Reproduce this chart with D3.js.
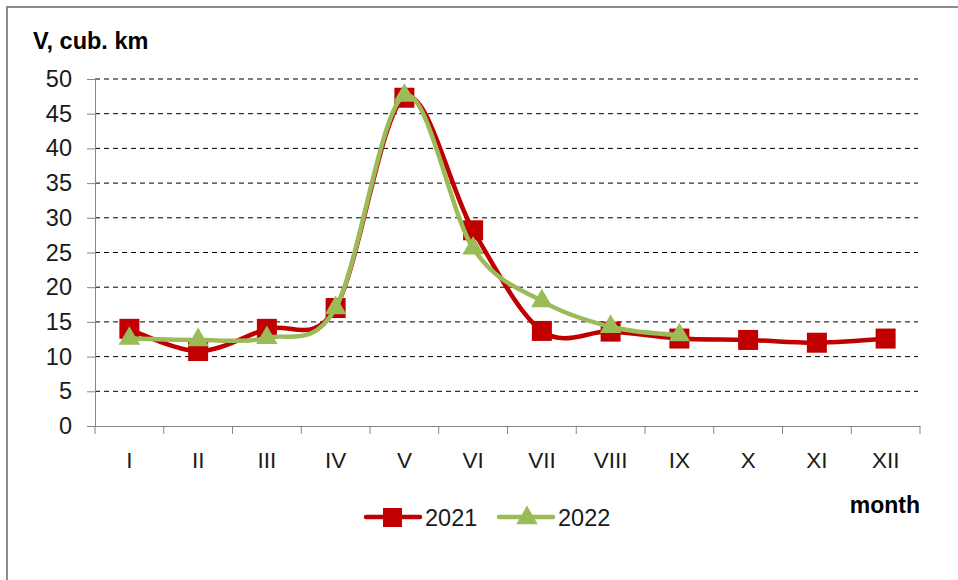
<!DOCTYPE html>
<html><head><meta charset="utf-8">
<script src="https://cdn.jsdelivr.net/npm/d3@7"></script>
<style>body{margin:0;background:#fff}svg{display:block}</style>
</head><body>
<script>
const months = ["I","II","III","IV","V","VI","VII","VIII","IX","X","XI","XII"];
const values2021 = [14.0,10.8,14.0,17.0,47.3,28.2,13.7,13.6,12.6,12.4,12.0,12.6];
const values2022 = [12.6,12.4,12.7,17.0,47.6,25.6,18.0,14.3,13.1];
const yTicks = [0,5,10,15,20,25,30,35,40,45,50];
const seriesNames = ["2021","2022"];

const W=958,H=580;
const svg=d3.select("body").append("svg").attr("width",W).attr("height",H);
const font="'Liberation Sans', Arial, sans-serif";

svg.append("rect").attr("x",7).attr("y",7).attr("width",W+20).attr("height",H+20)
  .attr("fill","#fff").attr("stroke","#8c8c8c").attr("stroke-width",2);

const x0=95,x1=920,yTop=79,yBot=426;
const x=d3.scaleBand().domain(months).range([x0,x1]);
const y=d3.scaleLinear().domain([0,50]).range([yBot,yTop]);

// gridlines
svg.append("g").selectAll("line").data(yTicks.filter(d=>d>0)).join("line")
  .attr("x1",x0).attr("x2",918).attr("y1",d=>y(d)).attr("y2",d=>y(d))
  .attr("stroke","#000").attr("stroke-width",1).attr("stroke-dasharray","5,4");

// y axis
const yAxis=svg.append("g").attr("transform",`translate(${x0},0)`)
  .call(d3.axisLeft(y).tickValues(yTicks).tickSize(8).tickPadding(15));
yAxis.select(".domain").attr("stroke","#868686");
yAxis.selectAll(".tick line").attr("stroke","#868686");
yAxis.selectAll("text").attr("font-family",font).attr("font-size",23.5).attr("fill","#1a1a1a");

// x axis
const xAxis=svg.append("g").attr("transform",`translate(0,${yBot})`)
  .call(d3.axisBottom(x).tickSize(0).tickPadding(26));
xAxis.select(".domain").attr("stroke","#868686");
xAxis.selectAll("text").attr("font-family",font).attr("font-size",22.5).attr("fill","#1a1a1a");
const bounds=months.map(m=>x(m)).concat([x1]);
svg.append("g").selectAll("line").data(bounds).join("line")
  .attr("x1",d=>d).attr("x2",d=>d).attr("y1",yBot).attr("y2",yBot+8)
  .attr("stroke","#868686");

const line=d3.line().x((d,i)=>x(months[i])+x.bandwidth()/2).y(d=>y(d)).curve(d3.curveCardinal);
const red="#C00000",green="#9BBB59";

svg.append("path").attr("d",line(values2021)).attr("fill","none").attr("stroke",red).attr("stroke-width",4.5);
svg.append("g").selectAll("rect").data(values2021).join("rect")
  .attr("x",(d,i)=>x(months[i])+x.bandwidth()/2-10).attr("y",d=>y(d)-10)
  .attr("width",20).attr("height",20).attr("fill",red);

svg.append("path").attr("d",line(values2022)).attr("fill","none").attr("stroke",green).attr("stroke-width",4.5);
const tri=d3.symbol().type(d3.symbolTriangle).size(200);
svg.append("g").selectAll("path").data(values2022).join("path")
  .attr("d",tri).attr("transform",(d,i)=>`translate(${x(months[i])+x.bandwidth()/2},${y(d)})`)
  .attr("fill",green);

// axis titles
svg.append("text").attr("x",33).attr("y",49).text("V, cub. km")
  .attr("font-family",font).attr("font-weight","bold").attr("font-size",23.5);
svg.append("text").attr("x",920).attr("y",513).attr("text-anchor","end").text("month")
  .attr("font-family",font).attr("font-weight","bold").attr("font-size",23);

// legend
const leg=[{n:seriesNames[0],c:red,x:366},{n:seriesNames[1],c:green,x:499}];
leg.forEach((l,i)=>{
  const g=svg.append("g");
  g.append("line").attr("x1",l.x).attr("x2",l.x+54).attr("y1",517).attr("y2",517)
    .attr("stroke",l.c).attr("stroke-width",4.5).attr("stroke-linecap","round");
  if(i===0) g.append("rect").attr("x",l.x+17).attr("y",508).attr("width",19).attr("height",19).attr("fill",l.c);
  else g.append("path").attr("d",tri).attr("transform",`translate(${l.x+28},518)`).attr("fill",l.c);
  g.append("text").attr("x",l.x+59).attr("y",526).text(l.n)
    .attr("font-family",font).attr("font-size",23.5).attr("fill","#1a1a1a");
});
</script>
</body></html>
